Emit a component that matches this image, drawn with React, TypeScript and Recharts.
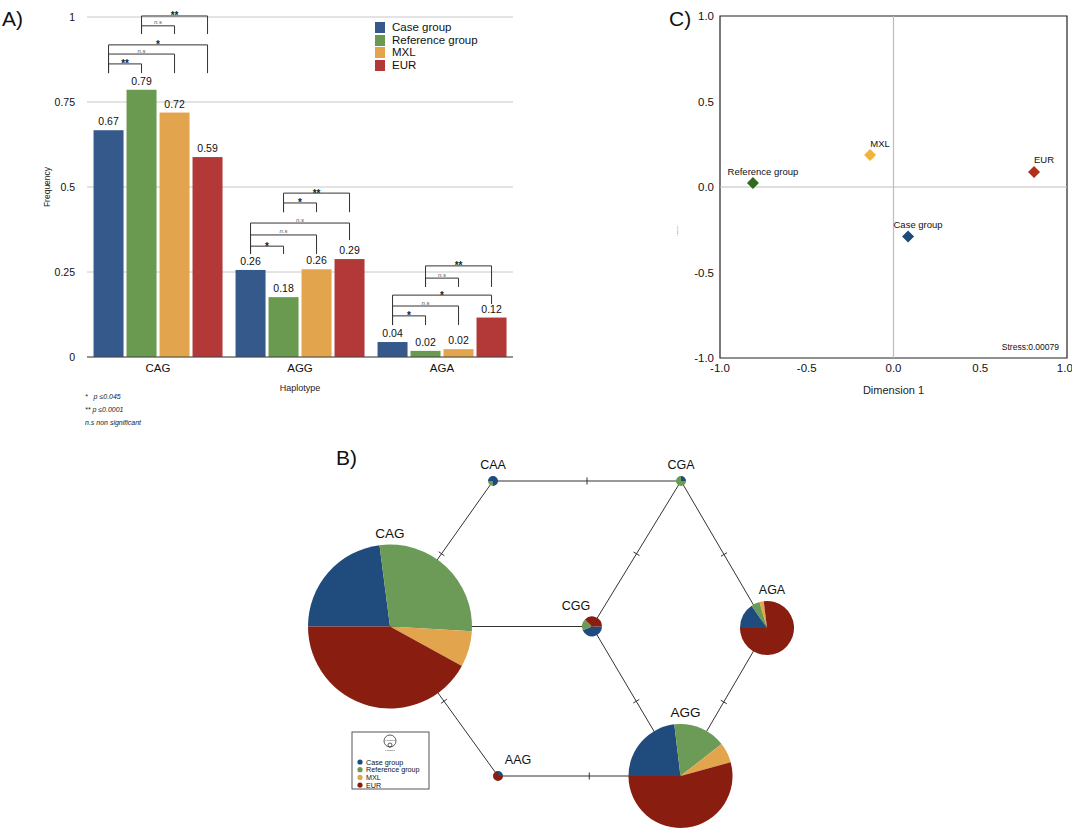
import React from 'react'
import {
  Bar,
  BarChart,
  CartesianGrid,
  ReferenceArea,
  ReferenceLine,
  Scatter,
  ScatterChart,
  Sector,
  XAxis,
  YAxis,
  ZAxis,
} from 'recharts'

const FONT = '"Liberation Sans", Arial, Helvetica, sans-serif'

// ---- A) haplotype frequencies ----
const haplotypes = ['CAG', 'AGG', 'AGA']
const groups = ['Case group', 'Reference group', 'MXL', 'EUR']
const caseFreq = [0.667, 0.256, 0.044]
const refFreq = [0.786, 0.176, 0.018]
const mxlFreq = [0.719, 0.258, 0.023]
const eurFreq = [0.588, 0.288, 0.116]
const freqTicks = [0, 0.25, 0.5, 0.75, 1]

// significance brackets: haplotype g, bars a -> b, top of bracket, foot of each leg
const brackets = [
  { g: 0, a: 0, b: 1, top: 0.862, fa: 0.835, fb: 0.835, sig: '**' },
  { g: 0, a: 0, b: 2, top: 0.891, fa: 0.835, fb: 0.835, sig: 'n.s' },
  { g: 0, a: 0, b: 3, top: 0.918, fa: 0.835, fb: 0.835, sig: '*' },
  { g: 0, a: 1, b: 2, top: 0.974, fa: 0.95, fb: 0.95, sig: 'n.s' },
  { g: 0, a: 1, b: 3, top: 1.003, fa: 0.95, fb: 0.95, sig: '**' },
  { g: 1, a: 0, b: 1, top: 0.326, fa: 0.303, fb: 0.303, sig: '*' },
  { g: 1, a: 0, b: 2, top: 0.359, fa: 0.303, fb: 0.303, sig: 'n.s' },
  { g: 1, a: 0, b: 3, top: 0.394, fa: 0.303, fb: 0.344, sig: 'n.s' },
  { g: 1, a: 1, b: 2, top: 0.453, fa: 0.426, fb: 0.426, sig: '*' },
  { g: 1, a: 1, b: 3, top: 0.482, fa: 0.426, fb: 0.426, sig: '**' },
  { g: 2, a: 0, b: 1, top: 0.121, fa: 0.094, fb: 0.094, sig: '*' },
  { g: 2, a: 0, b: 2, top: 0.15, fa: 0.094, fb: 0.094, sig: 'n.s' },
  { g: 2, a: 0, b: 3, top: 0.182, fa: 0.094, fb: 0.156, sig: '*' },
  { g: 2, a: 1, b: 2, top: 0.232, fa: 0.206, fb: 0.206, sig: 'n.s' },
  { g: 2, a: 1, b: 3, top: 0.268, fa: 0.206, fb: 0.206, sig: '**' },
]

// ---- C) MDS ----
const mdsNames = ['Reference group', 'MXL', 'EUR', 'Case group']
const dim1 = [-0.81, -0.135, 0.81, 0.084]
const dim2 = [0.023, 0.187, 0.088, -0.29]
const mdsTicks = [-1, -0.5, 0, 0.5, 1]

// ---- B) haplotype network ----
const nodeNames = ['CAA', 'CGA', 'CAG', 'CGG', 'AGA', 'AGG', 'AAG']
const nodeX = [3.86, 7.62, 1.8, 5.84, 9.34, 7.61, 3.96]
const nodeY = [7.02, 7.02, 4.11, 4.11, 4.08, 1.12, 1.12]
const caseCounts = [3, 1, 247, 7, 18, 100, 1]
const refCounts = [1, 3, 301, 3, 6, 71, 0]
const mxlCounts = [0, 0, 76, 0, 3, 27, 0]
const eurCounts = [0, 0, 452, 6, 90, 235, 3]
const edges = [
  ['CAA', 'CGA'],
  ['CAA', 'CAG'],
  ['CGA', 'CGG'],
  ['CGA', 'AGA'],
  ['CAG', 'CGG'],
  ['CAG', 'AAG'],
  ['CGG', 'AGG'],
  ['AGA', 'AGG'],
  ['AAG', 'AGG'],
]
const mutations = [1, 1, 1, 1, 0, 1, 1, 1, 1]

const BAR_COLORS = ['#35598b', '#6a9a4f', '#e2a54d', '#b33838']
const PIE_COLORS = ['#1f4c7d', '#6b9b56', '#e2a54e', '#881d10']
const MDS_COLORS: Record<string, string> = {
  'Reference group': '#2f6a1f',
  MXL: '#f2b33d',
  EUR: '#b1301c',
  'Case group': '#1e4a78',
}
const PIE_START: Record<string, number> = { CGG: 0, CGA: 90, AAG: 90 }
const NODE_LABEL_DX: Record<string, number> = { CGG: -16, AGA: 5, AGG: 5, AAG: 20 }

const BAR_GAP = 3
const KEYS = ['case', 'ref', 'mxl', 'eur']

const barData = haplotypes.map((h, i) => ({
  haplotype: h,
  case: caseFreq[i],
  ref: refFreq[i],
  mxl: mxlFreq[i],
  eur: eurFreq[i],
}))

const mdsData = mdsNames.map((n, i) => ({ name: n, x: dim1[i], y: dim2[i] }))

const nodeData = nodeNames.map((n, i) => {
  const counts = [caseCounts[i], refCounts[i], mxlCounts[i], eurCounts[i]]
  return { name: n, x: nodeX[i], y: nodeY[i], counts, total: counts.reduce((s, c) => s + c, 0) }
})
const maxTotal = Math.max(...nodeData.map((d) => d.total))

function nodeOf(name: string) {
  return nodeData[nodeNames.indexOf(name)]
}

// bar + its value; the first series also draws the group's brackets,
// using the bar's own pixel scale (height / value)
function renderBar(props: any, series: number) {
  const { x, y, width, height, fill, index, payload } = props
  const value = Number(payload?.[KEYS[series]])
  if (!(height > 0) || !value) return <g />
  const base = y + height
  const k = height / value
  const py = (v: number) => base - v * k
  let bracketMarks: any = null
  if (series === 0) {
    const cx = (i: number) => x + width / 2 + i * (width + BAR_GAP)
    bracketMarks = brackets
      .filter((b) => b.g === index)
      .map((b, j) => {
        const xa = cx(b.a)
        const xb = cx(b.b)
        const yt = py(b.top)
        const star = b.sig !== 'n.s'
        return (
          <g key={j}>
            <path
              d={`M${xa},${py(b.fa)}V${yt}H${xb}V${py(b.fb)}`}
              fill="none"
              stroke="#333"
              strokeWidth={1}
            />
            <text
              x={(xa + xb) / 2}
              y={star ? yt + 3.5 : yt - 1.5}
              textAnchor="middle"
              fontSize={star ? 10 : 6}
              fontWeight={star ? 700 : 400}
              fontStyle={star ? 'normal' : 'italic'}
              fill={star ? '#222' : '#555'}
            >
              {b.sig}
            </text>
          </g>
        )
      })
  }
  return (
    <g>
      <rect x={x} y={y} width={width} height={height} fill={fill} />
      <text x={x + width / 2} y={y - 5} textAnchor="middle" fontSize={10.5} fill="#111">
        {value.toFixed(2)}
      </text>
      {bracketMarks}
    </g>
  )
}

function RotatedTitle({ viewBox, text, dx, dy, size, color }: any) {
  if (!viewBox) return null
  const lx = viewBox.x + dx
  const ly = viewBox.y + viewBox.height / 2 + dy
  return (
    <text
      x={lx}
      y={ly}
      transform={`rotate(-90, ${lx}, ${ly})`}
      textAnchor="middle"
      dominantBaseline="central"
      fontSize={size}
      fill={color}
    >
      {text}
    </text>
  )
}

function BarLegend() {
  return (
    <div
      style={{
        position: 'absolute',
        left: 375,
        top: 21,
        fontFamily: FONT,
        fontSize: 11.5,
        lineHeight: '12.7px',
        color: '#111',
      }}
    >
      {groups.map((g, i) => (
        <div key={g} style={{ display: 'flex', alignItems: 'center' }}>
          <span
            style={{
              display: 'inline-block',
              width: 10,
              height: 11,
              background: BAR_COLORS[i],
              marginRight: 7,
            }}
          />
          {g}
        </div>
      ))}
    </div>
  )
}

function PanelA() {
  return (
    <BarChart
      width={540}
      height={440}
      data={barData}
      margin={{ top: 17, right: 27, bottom: 0, left: 0 }}
      barCategoryGap="4.6%"
      barGap={BAR_GAP}
    >
      <CartesianGrid vertical={false} stroke="#c8c8c8" />
      <XAxis
        dataKey="haplotype"
        height={83}
        tickLine={false}
        tickSize={0}
        tickMargin={7}
        axisLine={{ stroke: '#444' }}
        tick={{ fill: '#111', fontSize: 11.5 }}
        label={{ value: 'Haplotype', position: 'insideTop', offset: 28, fill: '#222', fontSize: 9 }}
      />
      <YAxis
        type="number"
        domain={[0, 1]}
        ticks={freqTicks}
        width={87}
        axisLine={false}
        tickLine={false}
        tickSize={0}
        tickMargin={12}
        tick={{ fill: '#111', fontSize: 10.5 }}
        label={<RotatedTitle text="Frequency" dx={47} dy={0} size={8.5} color="#222" />}
      />
      {KEYS.map((k, i) => (
        <Bar
          key={k}
          dataKey={k}
          name={groups[i]}
          fill={BAR_COLORS[i]}
          isAnimationActive={false}
          shape={(p: any) => renderBar(p, i)}
        />
      ))}
    </BarChart>
  )
}

function renderMdsPoint(props: any) {
  const { cx, cy, payload } = props
  const s = 6
  return (
    <g>
      <path
        d={`M${cx},${cy - s}L${cx + s},${cy}L${cx},${cy + s}L${cx - s},${cy}Z`}
        fill={MDS_COLORS[payload.name]}
      />
      <text x={cx + 10} y={cy - 8.5} textAnchor="middle" fontSize={9.5} fill="#111">
        {payload.name}
      </text>
    </g>
  )
}

function PanelC() {
  return (
    <ScatterChart width={400} height={410} margin={{ top: 16, right: 5, bottom: 0, left: 0 }}>
      <XAxis
        type="number"
        dataKey="x"
        domain={[-1, 1]}
        ticks={mdsTicks}
        tickFormatter={(v: number) => v.toFixed(1)}
        height={52}
        axisLine={false}
        tickLine={false}
        tickSize={0}
        tickMargin={6}
        tick={{ fill: '#111', fontSize: 11.5 }}
        label={{ value: 'Dimension 1', position: 'insideTop', offset: 28, fill: '#222', fontSize: 11 }}
      />
      <YAxis
        type="number"
        dataKey="y"
        domain={[-1, 1]}
        ticks={mdsTicks}
        tickFormatter={(v: number) => v.toFixed(1)}
        width={48}
        axisLine={false}
        tickLine={false}
        tickSize={0}
        tickMargin={6}
        tick={{ fill: '#111', fontSize: 11.5 }}
        label={<RotatedTitle text="Dimension 2" dx={5} dy={44} size={2} color="#444" />}
      />
      <ReferenceLine x={0} stroke="#bdbdbd" strokeWidth={1.2} />
      <ReferenceLine y={0} stroke="#bdbdbd" strokeWidth={1.2} />
      <ReferenceArea
        x1={-1}
        x2={1}
        y1={-1}
        y2={1}
        fill="none"
        fillOpacity={0}
        stroke="#222"
        strokeWidth={1.2}
        label={{ value: 'Stress:0.00079', position: 'insideBottomRight', offset: 8, fontSize: 8.5, fill: '#111' }}
      />
      <Scatter data={mdsData} shape={renderMdsPoint} isAnimationActive={false} />
    </ScatterChart>
  )
}

function renderPieNode(props: any) {
  const { cx, cy, payload } = props
  const r = props.size != null ? Math.sqrt(props.size / Math.PI) : props.width / 2
  const start = PIE_START[payload.name] ?? 180
  let angle = start
  const slices = payload.counts.map((c: number, i: number) => {
    if (!c) return null
    const sweep = (c / payload.total) * 360
    const s = (
      <Sector
        key={i}
        cx={cx}
        cy={cy}
        innerRadius={0}
        outerRadius={r}
        startAngle={angle}
        endAngle={angle - sweep}
        fill={PIE_COLORS[i]}
      />
    )
    angle -= sweep
    return s
  })
  return (
    <g>
      {slices}
      <text
        x={cx + (NODE_LABEL_DX[payload.name] ?? 0)}
        y={cy - r - 11}
        textAnchor="middle"
        dominantBaseline="central"
        fontSize={r > 40 ? 13.5 : 12.5}
        fill="#111"
      >
        {payload.name}
      </text>
    </g>
  )
}

function PanelB() {
  return (
    <ScatterChart width={500} height={400} margin={{ top: 0, right: 0, bottom: 0, left: 0 }}>
      <XAxis type="number" dataKey="x" domain={[0, 10]} hide />
      <YAxis type="number" dataKey="y" domain={[0, 8]} hide />
      <ZAxis type="number" dataKey="total" domain={[0, maxTotal]} range={[0, Math.PI * 82 * 82]} />
      {edges.map(([a, b], i) => {
        const na = nodeOf(a)
        const nb = nodeOf(b)
        return (
          <ReferenceLine
            key={`e${i}`}
            segment={[
              { x: na.x, y: na.y },
              { x: nb.x, y: nb.y },
            ]}
            stroke="#333"
            strokeWidth={1}
          />
        )
      })}
      {edges.map(([a, b], i) => {
        if (!mutations[i]) return null
        const na = nodeOf(a)
        const nb = nodeOf(b)
        const len = Math.hypot(nb.x - na.x, nb.y - na.y)
        const px = (-(nb.y - na.y) / len) * 0.07
        const py = ((nb.x - na.x) / len) * 0.07
        const mx = (na.x + nb.x) / 2
        const my = (na.y + nb.y) / 2
        return (
          <ReferenceLine
            key={`t${i}`}
            segment={[
              { x: mx - px, y: my - py },
              { x: mx + px, y: my + py },
            ]}
            stroke="#333"
            strokeWidth={1}
          />
        )
      })}
      <Scatter data={nodeData} shape={renderPieNode} isAnimationActive={false} />
    </ScatterChart>
  )
}

function NetworkLegend() {
  return (
    <svg width={80} height={60} style={{ position: 'absolute', left: 351, top: 731 }}>
      <rect x={1} y={1} width={77} height={57} fill="#fff" stroke="#555" strokeWidth={1} />
      <circle cx={39} cy={10} r={6} fill="none" stroke="#333" strokeWidth={0.8} />
      <circle cx={39} cy={14} r={2} fill="none" stroke="#333" strokeWidth={0.8} />
      <text x={39} y={10} textAnchor="middle" fontSize={2.5} fill="#333">1 sample</text>
      <text x={39} y={19.5} textAnchor="middle" fontSize={2.5} fill="#333">1 sample</text>
      {groups.map((g, i) => (
        <g key={g}>
          <circle cx={9} cy={31 + i * 7.7} r={2.6} fill={PIE_COLORS[i]} />
          <text x={15} y={31 + i * 7.7} dominantBaseline="central" fontSize={7.2} fill="#111">
            {g}
          </text>
        </g>
      ))}
    </svg>
  )
}

const panelLabel: React.CSSProperties = { position: 'absolute', fontSize: 21, color: '#111', lineHeight: 1 }
const note: React.CSSProperties = { position: 'absolute', left: 85, fontSize: 7, fontStyle: 'italic', color: '#222', lineHeight: 1 }

export default function App() {
  return (
    <div
      style={{
        position: 'absolute',
        left: 0,
        top: 0,
        width: 1072,
        height: 832,
        background: '#fff',
        fontFamily: FONT,
        overflow: 'hidden',
      }}
    >
      <div style={{ position: 'absolute', left: 0, top: 0 }}>
        <PanelA />
      </div>
      <BarLegend />
      <div style={{ position: 'absolute', left: 672, top: 0 }}>
        <PanelC />
      </div>
      <div style={{ position: 'absolute', left: 300, top: 432 }}>
        <PanelB />
      </div>
      <NetworkLegend />
      <div style={{ ...panelLabel, left: 2, top: 8 }}>A)</div>
      <div style={{ ...panelLabel, left: 669, top: 8 }}>C)</div>
      <div style={{ ...panelLabel, left: 336, top: 447 }}>B)</div>
      <div style={{ ...note, top: 393 }}>*&nbsp;&nbsp; p ≤0.045</div>
      <div style={{ ...note, top: 406 }}>** p ≤0.0001</div>
      <div style={{ ...note, top: 419 }}>n.s non significant</div>
    </div>
  )
}
